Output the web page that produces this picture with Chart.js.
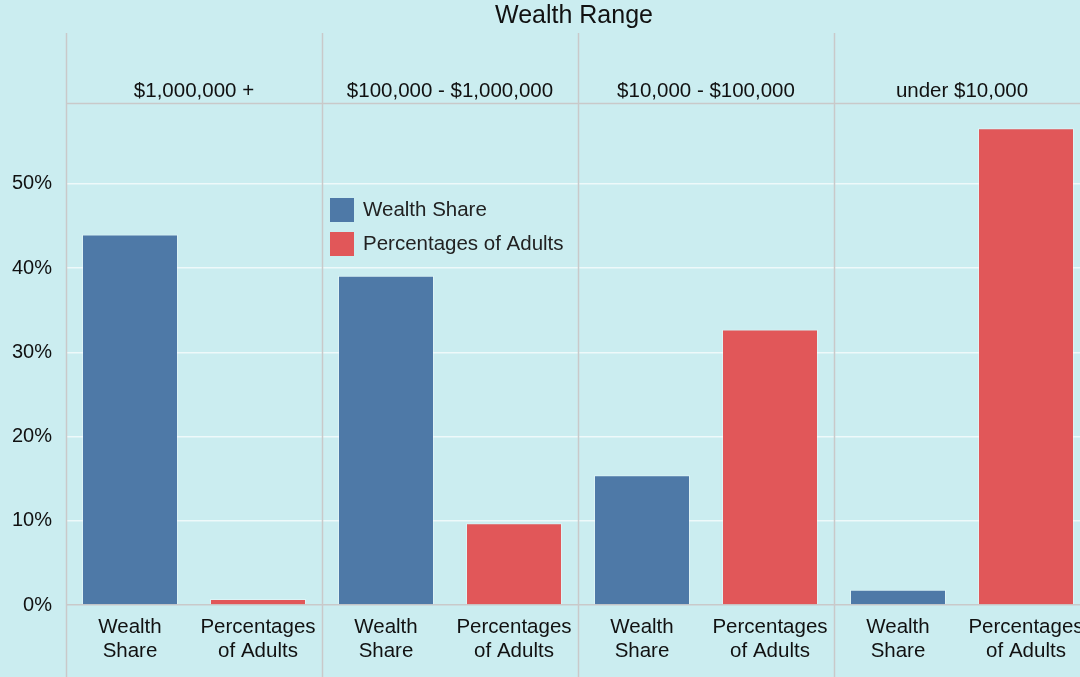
<!DOCTYPE html>
<html>
<head>
<meta charset="utf-8">
<script src="https://cdn.jsdelivr.net/npm/chart.js@4"></script>
<style>
  html, body { margin: 0; padding: 0; background: #cbedf0; overflow: hidden; }
  #wrap { width: 1090px; height: 677px; }
</style>
</head>
<body>
<div id="wrap"><canvas id="myChart" width="1090" height="677"></canvas></div>
<script>
var ranges = ['$1,000,000 +', '$100,000 - $1,000,000', '$10,000 - $100,000', 'under $10,000'];
var measures = ['Wealth Share', 'Percentages of Adults'];
var wealthShare = [44.0, 39.1, 15.4, 1.8];
var adultsShare = [0.7, 9.7, 32.7, 56.6];
var yTicks = [0, 10, 20, 30, 40, 50];

var labels = [];
var wsData = [];
var adData = [];
ranges.forEach(function (r, i) {
  labels.push(['Wealth', 'Share']);
  labels.push(['Percentages', 'of Adults']);
  wsData.push(wealthShare[i], null);
  adData.push(null, adultsShare[i]);
});

var FONT = '"Liberation Sans", Arial, sans-serif';
var GRID = '#c9c9c9';

var facetPlugin = {
  id: 'facets',
  afterDraw: function (chart) {
    var c = chart.ctx;
    var area = chart.chartArea;
    var x = chart.scales.x;
    var half = (x.getPixelForValue(1) - x.getPixelForValue(0)) / 2;
    c.save();
    // title
    c.fillStyle = '#111';
    c.font = '25px ' + FONT;
    c.textAlign = 'center';
    c.textBaseline = 'middle';
    c.fillText('Wealth Range', 574, 16);
    // header bottom line
    c.strokeStyle = GRID;
    c.lineWidth = 1.5;
    c.beginPath();
    c.moveTo(area.left, 103.5);
    c.lineTo(chart.width, 103.5);
    c.stroke();
    // panel separators and headers
    c.font = '20.5px ' + FONT;
    ranges.forEach(function (r, i) {
      var left = x.getPixelForValue(i * 2) - half;
      var right = x.getPixelForValue(i * 2 + 1) + half;
      c.beginPath();
      c.moveTo(Math.round(left) + 0.5, 33);
      c.lineTo(Math.round(left) + 0.5, chart.height);
      c.stroke();
      c.fillText(r, (left + right) / 2, 91);
    });
    // legend
    c.font = '20.5px ' + FONT;
    c.textAlign = 'left';
    chart.data.datasets.forEach(function (ds, i) {
      var ly = 198 + i * 34;
      c.fillStyle = ds.backgroundColor;
      c.fillRect(330, ly, 24, 24);
      c.fillStyle = '#222';
      c.fillText(ds.label, 363, ly + 12);
    });
    c.restore();
  }
};

var ctx = document.getElementById('myChart').getContext('2d');
var myChart = new Chart(ctx, {
  type: 'bar',
  data: {
    labels: labels,
    datasets: [{
      label: measures[0],
      data: wsData,
      backgroundColor: '#4e79a7',
      borderColor: 'rgba(255,255,255,0.35)',
      borderWidth: 1,
      grouped: false
    }, {
      label: measures[1],
      data: adData,
      backgroundColor: '#e15759',
      borderColor: 'rgba(255,255,255,0.35)',
      borderWidth: 1,
      grouped: false
    }]
  },
  options: {
    responsive: false,
    animation: false,
    layout: { padding: { top: 103, left: 0, right: 0, bottom: 0 } },
    datasets: { bar: { barPercentage: 0.75, categoryPercentage: 1 } },
    plugins: {
      legend: { display: false },
      tooltip: { enabled: false }
    },
    scales: {
      x: {
        grid: { display: false },
        border: { display: false },
        ticks: {
          color: '#111',
          font: { family: FONT, size: 20.5, lineHeight: 1.15 },
          maxRotation: 0,
          autoSkip: false,
          padding: 3
        },
        afterFit: function (s) { s.height = 72; }
      },
      y: {
        min: 0,
        max: 59.6,
        afterBuildTicks: function (s) {
          s.ticks = yTicks.map(function (v) { return { value: v }; });
        },
        grid: {
          color: function (c) { return c.tick.value === 0 ? GRID : '#eef9fa'; },
          lineWidth: 1.5,
          drawTicks: false
        },
        border: { display: false },
        ticks: {
          color: '#111',
          font: { family: FONT, size: 20 },
          padding: 14,
          callback: function (v) { return v + '%'; }
        },
        afterFit: function (s) { s.width = 66; }
      }
    }
  },
  plugins: [facetPlugin]
});
</script>
</body>
</html>
